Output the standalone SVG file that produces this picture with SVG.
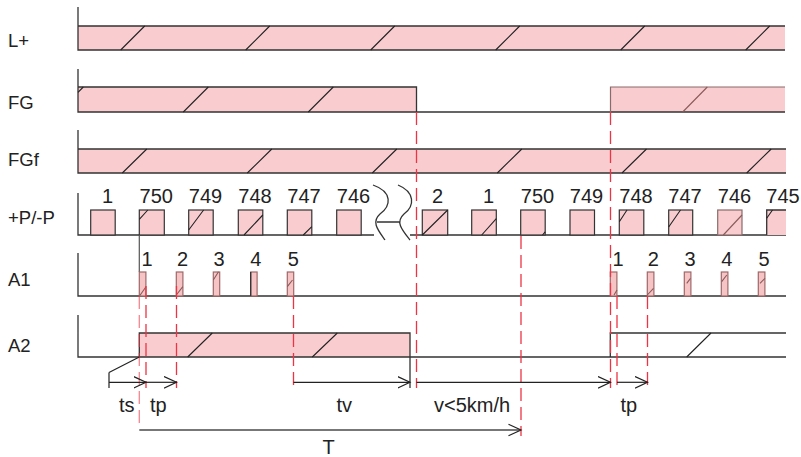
<svg xmlns="http://www.w3.org/2000/svg" width="801" height="457" viewBox="0 0 801 457">
<style>
text{font-family:"Liberation Sans",Arial,sans-serif;fill:#222}
.lbl{font-size:18.5px}
.num{font-size:20px;text-anchor:middle}
.bt{font-size:20px}
.bar{fill:#f9cdcf;stroke:none}
.ln{fill:none;stroke:#333;stroke-width:1.3}
.lt{fill:none;stroke:#8a6a6a;stroke-width:1.2}
.box{fill:#f9cdcf;stroke:#333;stroke-width:1.2}
.boxl{fill:#f9cdcf;stroke:#8a6a6a;stroke-width:1.2}
.pul{fill:#f7c4c6;stroke:#a06868;stroke-width:1.2}
.h{stroke:#222;stroke-width:1.1}
.hl{stroke:#8a5a5a;stroke-width:1.1}
.rd{fill:none;stroke:#ee3344;stroke-width:1.3;stroke-dasharray:13 6}
.ar{fill:none;stroke:#222;stroke-width:1.2}
</style>
<defs>
<marker id="oa" markerUnits="userSpaceOnUse" markerWidth="14" markerHeight="14" refX="12.5" refY="6" orient="auto">
<path d="M0,0.2 L12.5,6 L0,11.8" fill="none" stroke="#222" stroke-width="1.2"/>
</marker>
</defs>

<g id="labels">
<text class="lbl" x="8" y="47">L+</text>
<text class="lbl" x="8" y="109">FG</text>
<text class="lbl" x="8" y="166">FGf</text>
<text class="lbl" x="8" y="224">+P/-P</text>
<text class="lbl" x="8" y="286">A1</text>
<text class="lbl" x="8" y="352">A2</text>
</g>

<g id="row-Lplus">
<rect class="bar" x="78" y="26" width="707" height="24"/>
<path class="ln" d="M78,7 V50 H785 M78,26 H785"/>
<path class="h" d="M120.7,50 L144.7,26 M245.7,50 L269.7,26 M370.7,50 L394.7,26 M495.7,50 L519.7,26 M620.7,50 L644.7,26 M745.7,50 L769.7,26"/>
</g>

<g id="row-FG">
<rect class="bar" x="78" y="87" width="338" height="25"/>
<rect class="bar" x="610.5" y="87" width="174.5" height="25"/>
<path class="ln" d="M78,69 V112 H785 M78,87 H416.5 V112"/>
<path class="lt" d="M610.5,112 V87 H785"/>
<path class="h" d="M78,92.3 L83.3,87 M183.3,112 L208.3,87 M308.3,112 L333.3,87"/>
<path class="hl" d="M682.7,112 L707.3,87"/>
</g>

<g id="row-FGf">
<rect class="bar" x="78" y="149" width="708" height="24"/>
<path class="ln" d="M78,130 V173 H786 M78,149 H786"/>
<path class="h" d="M122.3,173 L146.8,149 M247.3,173 L271.8,149 M372.3,173 L396.8,149 M497.3,173 L521.8,149 M622,173 L646.5,149 M746.7,173 L771.2,149"/>
</g>

<g id="row-P">
<path class="ln" d="M78,193 V235 H374 M410,235 H786"/>
<rect class="box" x="90.7" y="210" width="24.5" height="25"/>
<rect class="box" x="139.3" y="210" width="25" height="25"/>
<rect class="box" x="188.7" y="210" width="24.5" height="25"/>
<rect class="box" x="238.3" y="210" width="24.5" height="25"/>
<rect class="box" x="287.3" y="210" width="24.5" height="25"/>
<rect class="box" x="336.7" y="210" width="24.5" height="25"/>
<rect class="box" x="422.3" y="210" width="25.4" height="25"/>
<rect class="box" x="471.7" y="210" width="24.6" height="25"/>
<rect class="box" x="520.7" y="210" width="24.5" height="25"/>
<rect class="box" x="570" y="210" width="24.5" height="25"/>
<rect class="box" x="619.3" y="210" width="24.5" height="25"/>
<rect class="box" x="668.7" y="210" width="24" height="25"/>
<rect class="boxl" x="717.7" y="210" width="24.3" height="25"/>
<rect class="bar" x="766.7" y="210" width="19.3" height="25"/>
<path class="ln" d="M766.7,235 V210 H786"/>
<path class="h" d="M139.3,219.3 L147.8,210 M188.7,230 L203.6,210 M244,235 L262.8,215 M303.3,235 L311.8,226.7 M422.3,235 L447.7,210 M481.7,235 L496.3,218.7 M542.5,235 L545.2,231.8 M619.3,221.7 L627,210 M668.7,227 L680.5,210 M766.7,218.3 L772.5,210"/>
<path class="hl" d="M723.3,235 L742,215"/>
<path class="ln" d="M373,185 C393,192 391,206 380,214 C371,222 378,230 385,240 M398,185 C415,192 415,206 404,214 C395,222 402,230 410,240 M377,222 H400"/>
<text class="num" x="107.5" y="203">1</text>
<text class="num" x="156.3" y="203">750</text>
<text class="num" x="205.5" y="203">749</text>
<text class="num" x="255" y="203">748</text>
<text class="num" x="304" y="203">747</text>
<text class="num" x="353.5" y="203">746</text>
<text class="num" x="437.5" y="203">2</text>
<text class="num" x="488.5" y="203">1</text>
<text class="num" x="537.5" y="203">750</text>
<text class="num" x="586.5" y="203">749</text>
<text class="num" x="636" y="203">748</text>
<text class="num" x="685" y="203">747</text>
<text class="num" x="734.5" y="203">746</text>
<text class="num" x="783" y="203">745</text>
</g>

<g id="row-A1">
<path class="ln" d="M78,253 V296 H786"/>
<path fill="none" stroke="#555" stroke-width="1.2" d="M139.3,235 V272"/>
<rect class="pul" x="139.3" y="272" width="6.6" height="24"/>
<rect class="pul" x="176.3" y="272" width="6.6" height="24"/>
<rect class="pul" x="213.3" y="272" width="6.4" height="24"/>
<rect class="pul" x="250.7" y="272" width="6.4" height="24"/>
<path class="ln" d="M250.7,296 V272"/>
<rect class="pul" x="287.3" y="272" width="6.4" height="24"/>
<rect class="pul" x="610.3" y="272" width="6.6" height="24"/>
<rect class="pul" x="647.3" y="272" width="6.6" height="24"/>
<rect class="pul" x="684.3" y="272" width="6.6" height="24"/>
<rect class="pul" x="721.3" y="272" width="6.6" height="24"/>
<rect class="pul" x="758.3" y="272" width="6.6" height="24"/>
<path class="hl" d="M139.7,295.7 L146,286.7 M176.3,295 L182.8,286.7 M213.3,280 L218.5,271.7 M287.3,286.7 L292.5,280 M614,295 L617,290 M647.3,295 L653.5,288.3 M686.7,283.3 L690.5,278.3 M721.7,281.7 L726.8,275 M760,283.3 L765,278.3"/>
<text class="num" x="147" y="266">1</text>
<text class="num" x="182.5" y="266">2</text>
<text class="num" x="219" y="266">3</text>
<text class="num" x="255.7" y="266">4</text>
<text class="num" x="293.3" y="266">5</text>
<text class="num" x="618" y="266">1</text>
<text class="num" x="653.3" y="266">2</text>
<text class="num" x="690" y="266">3</text>
<text class="num" x="726.7" y="266">4</text>
<text class="num" x="764" y="266">5</text>
</g>

<g id="row-A2">
<rect class="bar" x="139.3" y="333" width="270.7" height="24"/>
<path class="ln" d="M78,315 V357 H786 M139.3,357 V333 H410 V388 M610.3,357 V333 H786"/>
<path class="h" d="M187.7,357 L212.3,333 M312.3,357 L337.3,333 M686.7,357 L711,333"/>
</g>

<g id="connectors">
<path class="rd" d="M416.5,112 V388 M610.5,112 V388 M521,236 V436 M146,286 V388 M176.5,286 V388 M293.5,296 V388 M617,296 V388 M647.5,296 V388"/>
<path class="rd" stroke-opacity="0.6" d="M139.3,296 V427"/>
<path class="ar" d="M109,372.5 V388 M109,372.5 L139.3,357"/>
<path class="ar" marker-end="url(#oa)" d="M109,382.3 H146"/>
<path class="ar" marker-end="url(#oa)" d="M146,382.3 H176.5"/>
<path class="ar" marker-end="url(#oa)" d="M293.5,382.3 H410"/>
<path class="ar" marker-end="url(#oa)" d="M416.5,382.3 H610.5"/>
<path class="ar" marker-end="url(#oa)" d="M617,382.3 H647.5"/>
<path fill="none" stroke="#777" stroke-width="2" d="M139.3,430 H520"/>
<path class="ar" d="M508.5,424.3 L521,430 L508.5,435.7"/>
</g>

<g id="dim-labels">
<text class="bt" x="119" y="412">ts</text>
<text class="bt" x="150" y="412">tp</text>
<text class="bt" x="336.5" y="412">tv</text>
<text class="bt" x="434" y="412">v&lt;5km/h</text>
<text class="bt" x="620.5" y="412">tp</text>
<text class="bt" x="322.5" y="454">T</text>
</g>
</svg>
